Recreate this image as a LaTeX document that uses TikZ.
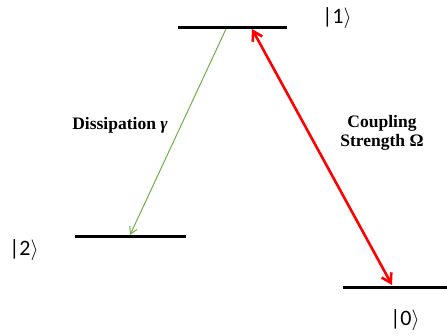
\documentclass[tikz,border=0pt]{standalone}
\usepackage{fontspec}
\setmainfont{Liberation Serif}
\newfontfamily\ketfont{Carlito}
\usetikzlibrary{arrows.meta}
\definecolor{levelcol}{HTML}{000000}
\definecolor{dissipcol}{HTML}{70AD47}
\definecolor{couplecol}{HTML}{FF0000}
\tikzset{
  level/.style={draw=levelcol, line width=3pt},
  ketlabel/.style={font=\ketfont\fontsize{22}{24}\selectfont, inner sep=0pt},
  ratelabel/.style={font=\bfseries\fontsize{17.5}{19}\selectfont, align=center, inner sep=0pt},
  dissip/.style={draw=dissipcol, line width=1pt, -{Straight Barb[length=7pt,width=8pt]}},
  couple/.style={draw=couplecol, line width=2.6pt, {Straight Barb[length=9pt,width=11pt]}-{Straight Barb[length=9pt,width=11pt]}}
}
\newcommand{\ket}[1]{|#1\ensuremath{\rangle}}
\begin{document}
\begin{tikzpicture}[x=1pt,y=-1pt]
  \useasboundingbox (0,0) rectangle (447,335);

  % energy levels
  \coordinate (oneL) at (178,27);
  \coordinate (oneR) at (287,27);
  \coordinate (twoL) at (75,236);
  \coordinate (twoR) at (186,236);
  \coordinate (zeroL) at (343,287);
  \coordinate (zeroR) at (447,287);
  \draw[level] (oneL) -- (oneR);
  \draw[level] (twoL) -- (twoR);
  \draw[level] (zeroL) -- (zeroR);

  \node[ketlabel] (ket1) at (337,18) {\ket{1}};
  \node[ketlabel] (ket2) at (24,250) {\ket{2}};
  \node[ketlabel] (ket0) at (405,320) {\ket{0}};

  % transitions
  \coordinate (dTop) at (226,29);
  \coordinate (dBot) at (130,235);
  \coordinate (cTop) at (252,29);
  \coordinate (cBot) at (392,285);
  \draw[dissip] (dTop) -- (dBot);
  \draw[couple] (cTop) -- (cBot);

  \node[ratelabel] (gam) at (120,125) {Dissipation \textit{γ}};
  \node[ratelabel] (omg) at (382,133) {Coupling\\Strength Ω};
\end{tikzpicture}
\end{document}
